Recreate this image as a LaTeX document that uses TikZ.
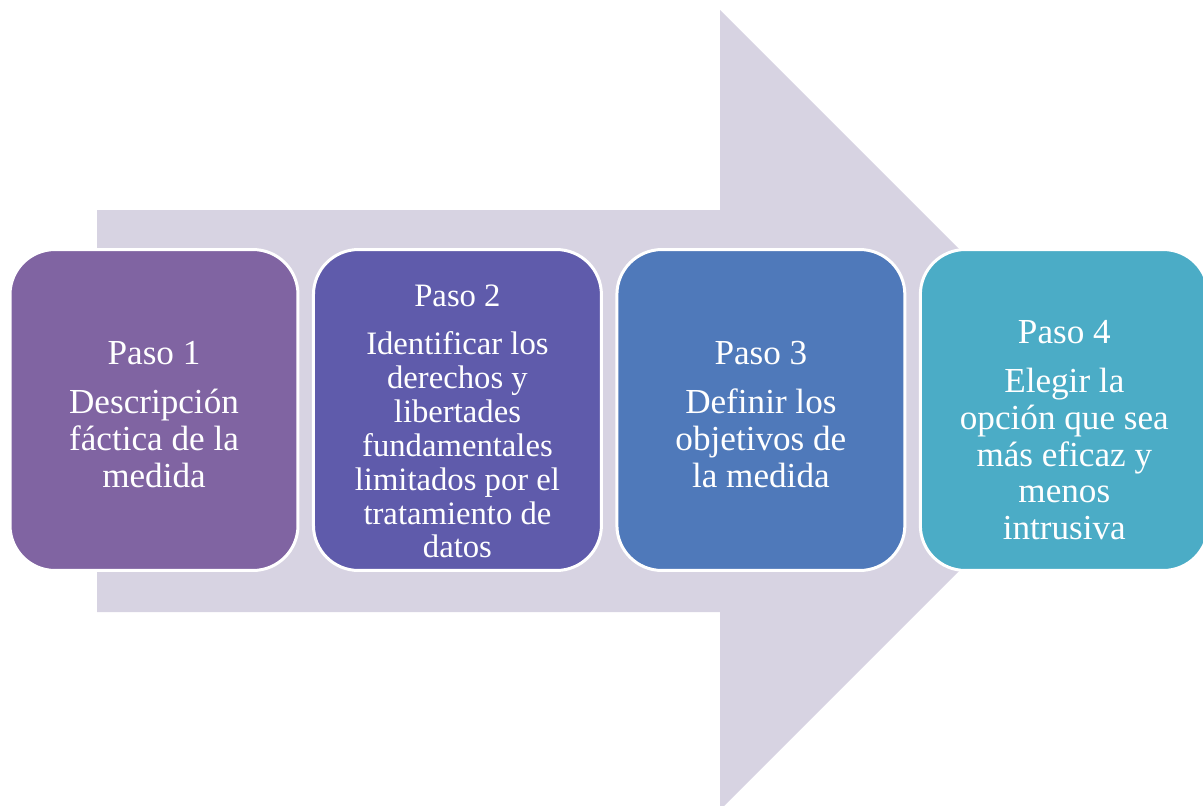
\documentclass[tikz,border=0pt]{standalone}
\usepackage{fontspec}
\setmainfont{Liberation Serif}
\usetikzlibrary{%
    positioning
}
\definecolor{arrowgrey}{HTML}{D7D3E2}
\definecolor{pasoone}{HTML}{8064A2}
\definecolor{pasotwo}{HTML}{5F5BAB}
\definecolor{pasothree}{HTML}{4F79BA}
\definecolor{pasofour}{HTML}{4BACC6}
\tikzset{stepbox/.style = {rectangle, rounded corners=0.9cm, draw=white,
        line width=0.06cm, minimum width=5.76cm, minimum height=6.42cm,
        inner sep=0pt, align=center, text=white,
        font=\fontsize{20}{21}\selectfont}}
% title line, with a strut that pushes the text block down
\newcommand{\pasohead}[2]{\rule{0pt}{#2}Paso #1}

\begin{document}
\begin{tikzpicture}[x=0.02cm,y=-0.02cm]
    \useasboundingbox (0,0) rectangle (1203,805);
    % big arrow behind the steps
    \fill[arrowgrey] (97,210) -- (720,210) -- (720,10) -- (1120,410)
        -- (720,810) -- (720,612) -- (97,612) -- cycle;

    \node[stepbox,fill=pasoone] (paso-1) at (154,410)
        {\pasohead{1}{18.5pt}\\[7pt] Descripción\\ fáctica de la\\ medida};
    \node[stepbox,fill=pasotwo,font=\fontsize{18.6}{19.3}\selectfont]
        (paso-2) [right=0.25cm of paso-1]
        {\pasohead{2}{25.5pt}\\[8pt] Identificar los\\ derechos y\\ libertades\\ fundamentales\\ limitados por el\\ tratamiento de\\ datos};
    \node[stepbox,fill=pasothree] (paso-3) [right=0.25cm of paso-2]
        {\pasohead{3}{18.5pt}\\[7pt] Definir los\\ objetivos de\\ la medida};
    \node[stepbox,fill=pasofour] (paso-4) [right=0.25cm of paso-3]
        {\pasohead{4}{36pt}\\[7pt] Elegir la\\ opción que sea\\ más eficaz y\\ menos\\ intrusiva};
\end{tikzpicture}
\end{document}
